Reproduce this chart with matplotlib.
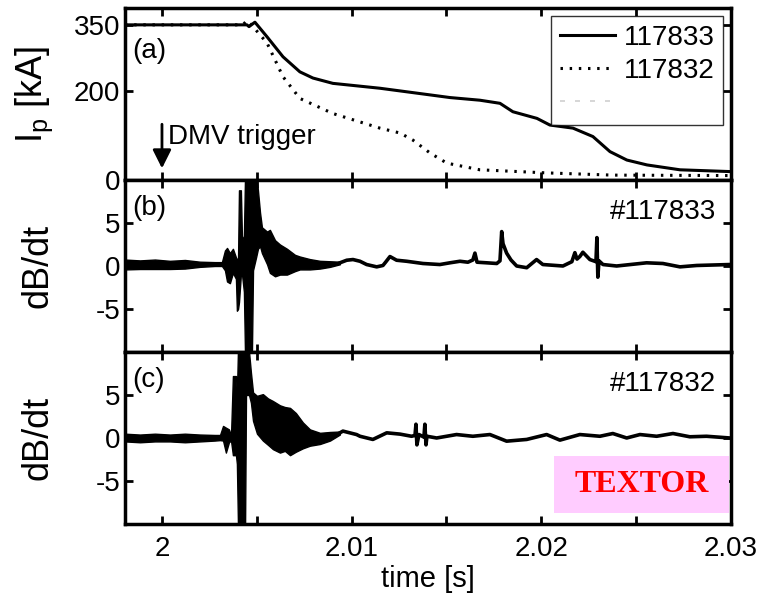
import numpy as np
import matplotlib.pyplot as plt
from matplotlib.patches import Rectangle
from matplotlib.lines import Line2D

plt.rcParams['font.family'] = ['Liberation Sans', 'DejaVu Sans']
plt.rcParams['mathtext.fontset'] = 'custom'
plt.rcParams['mathtext.rm'] = 'Liberation Sans'
plt.rcParams['mathtext.it'] = 'Liberation Sans'
plt.rcParams['axes.unicode_minus'] = False

# plasma current, kA
t_833 = [1.99805, 2.00448, 2.00459, 2.00490, 2.00554, 2.00638, 2.00727, 2.00796, 2.00901,
         2.01149, 2.01413, 2.01518, 2.01676, 2.01782, 2.01850, 2.01977, 2.02045, 2.02167,
         2.02272, 2.02362, 2.02451, 2.02557, 2.02731, 2.02994]
ip_833 = [350, 350, 346, 356, 323, 278, 244, 230, 218,
          207, 192, 186, 180, 173, 154, 139, 124, 117,
          98, 64, 45, 34, 23, 19]
t_832 = [1.99805, 2.00427, 2.00448, 2.00480, 2.00554, 2.00638, 2.00727, 2.00901, 2.01149,
         2.01255, 2.01323, 2.01413, 2.01502, 2.01676, 2.02030, 2.02377, 2.02994]
ip_832 = [350, 350, 360, 346, 309, 233, 184, 150, 117,
          106, 90, 61, 38, 23, 16, 11, 10]
trigger_time = 2.0

# dB/dt #117833: envelope of the noisy part, then the quieter trace
b_env_t = [1.99805, 1.99884, 1.99963, 2.00042, 2.00121, 2.00200, 2.00279, 2.00316, 2.00332,
           2.00343, 2.00358, 2.00374, 2.00390, 2.00395, 2.00401, 2.00406, 2.00416, 2.00422,
           2.00432, 2.00438, 2.00474, 2.00480, 2.00496, 2.00506, 2.00517, 2.00527, 2.00554,
           2.00569, 2.00596, 2.00622, 2.00659, 2.00701, 2.00727, 2.00780, 2.00833, 2.00886,
           2.00938]
b_env_hi = [0.75, 0.65, 0.75, 0.6, 0.7, 0.5, 0.45, 0.45, 1.8,
            2.1, 1.5, 2.0, 1.0, 0.8, 0.8, 8.8, 8.8, 3.0,
            3.5, 10.5, 10.5, 10.5, 10.5, 8.8, 6.2, 4.5, 4.0,
            4.2, 3.0, 2.5, 2.0, 1.3, 1.1, 0.8, 0.6, 0.55,
            0.5]
b_env_lo = [-0.4, -0.35, -0.35, -0.35, -0.3, -0.1, 0.0, 0.0, -0.5,
            -1.8, -2.0, -0.8, -1.5, -5.2, -5.0, -4.2, -1.0, -1.0,
            -3.0, -10.5, -10.5, -0.5, 1.0, 2.0, 2.3, 1.5, 0.2,
            -0.8, -1.2, -1.0, -1.0, -0.6, -0.4, -0.4, -0.3, -0.1,
            0.2]
b_t = [2.00938, 2.00974, 2.01007, 2.01044, 2.01079, 2.01132, 2.01165, 2.01181, 2.01202,
       2.01237, 2.01290, 2.01376, 2.01465, 2.01518, 2.01571, 2.01613, 2.01639, 2.01650,
       2.01661, 2.01712, 2.01765, 2.01782, 2.01791, 2.01798, 2.01817, 2.01840, 2.01870,
       2.01923, 2.01975, 2.02008, 2.02114, 2.02161, 2.02177, 2.02188, 2.02203, 2.02219,
       2.02256, 2.02288, 2.02293, 2.02298, 2.02304, 2.02325, 2.02397, 2.02555, 2.02641,
       2.02731, 2.02819, 2.02994]
b_v = [0.37, 0.67, 0.75, 0.55, 0.17, -0.1, 0.06, 0.5, 1.1,
       0.67, 0.55, 0.29, 0.17, 0.37, 0.55, 0.44, 0.7, 1.5,
       0.44, 0.37, 0.29, 0.6, 4.0, 2.6, 1.5, 0.7, 0.0,
       -0.2, 0.75, 0.17, 0.0, 0.5, 1.55, 0.8, 1.1, 1.6,
       0.75, 0.5, 3.3, -1.3, 0.6, 0.17, 0.0, 0.37, 0.29,
       -0.1, 0.06, 0.17]

# dB/dt #117832
c_env_t = [1.99805, 1.99884, 1.99963, 2.00042, 2.00121, 2.00200, 2.00279, 2.00306, 2.00322,
           2.00337, 2.00353, 2.00364, 2.00374, 2.00390, 2.00395, 2.00401, 2.00438, 2.00443,
           2.00459, 2.00469, 2.00480, 2.00501, 2.00532, 2.00559, 2.00585, 2.00622, 2.00648,
           2.00675, 2.00706, 2.00743, 2.00780, 2.00833, 2.00886, 2.00938]
c_env_hi = [0.5, 0.4, 0.5, 0.4, 0.5, 0.4, 0.35, 0.35, 1.4,
            1.2, 1.0, 0.3, 7.2, 7.2, 5.0, 10.5, 10.5, 10.5,
            10.0, 7.6, 5.3, 4.9, 5.1, 4.6, 4.3, 3.8, 3.6,
            3.5, 2.9, 1.8, 1.0, 0.6, 0.7, 0.75]
c_env_lo = [-0.4, -0.5, -0.4, -0.4, -0.5, -0.4, -0.3, -0.25, -0.3,
            -1.7, -0.5, -0.3, -2.0, -2.0, -3.0, -10.5, -10.5, 5.0,
            5.0, 4.1, 2.0, 0.5, -0.3, -0.8, -1.3, -1.7, -1.5,
            -2.0, -1.6, -1.2, -0.9, -0.7, -0.3, 0.4]
c_t = [2.00938, 2.00954, 2.01026, 2.01044, 2.01112, 2.01185, 2.01255, 2.01316, 2.01334,
       2.01339, 2.01344, 2.01355, 2.01381, 2.01386, 2.01392, 2.01397, 2.01448, 2.01553,
       2.01639, 2.01729, 2.01817, 2.01923, 2.02028, 2.02098, 2.02203, 2.02309, 2.02377,
       2.02450, 2.02520, 2.02608, 2.02694, 2.02783, 2.02871, 2.02994]
c_v = [0.6, 0.8, 0.4, 0.2, -0.17, 0.6, 0.45, 0.2, 0.3,
       1.6, -0.8, 0.4, 0.1, 1.6, -0.8, 0.2, 0.0, 0.4,
       0.2, 0.4, -0.37, -0.17, 0.4, -0.25, 0.4, 0.2, 0.52,
       0.0, 0.4, 0.2, 0.52, 0.14, 0.2, 0.0]

fig, (ax1, ax2, ax3) = plt.subplots(3, 1, sharex=True, figsize=(7.64, 6.02), dpi=100)
fig.subplots_adjust(left=0.1636, right=0.9568, top=0.9867, bottom=0.1296, hspace=0)

# (a) plasma current
ax1.plot(t_833, ip_833, color='k', lw=2.2, label='117833')
ax1.plot(t_832, ip_832, color='k', lw=2.2, linestyle=(0, (0.8, 2.2)), label='117832')
ax1.set_ylim(0, 388)
ax1.set_yticks([0, 200, 350])
ax1.set_ylabel('$\\mathregular{I_p}$ [kA]', fontsize=26)
ax1.text(0.012, 0.75, '(a)', transform=ax1.transAxes, fontsize=20, va='center')
ax1.annotate('', xy=(trigger_time, 20), xytext=(trigger_time, 132),
             arrowprops=dict(arrowstyle='-|>', color='k', lw=2, mutation_scale=28))
ax1.text(trigger_time + 0.0003, 97, 'DMV trigger', fontsize=20, va='center', ha='left')
handles = [Line2D([], [], color='k', lw=2.2),
           Line2D([], [], color='k', lw=2.2, linestyle=(0, (0.8, 2.2))),
           Line2D([], [], color='#d0d0d0', lw=1.2, linestyle=(0, (3, 6)))]
leg = ax1.legend(handles, ['117833', '117832', ''], loc='upper right', fontsize=20,
                 frameon=True, fancybox=False, handlelength=2.0, handletextpad=0.3,
                 borderaxespad=0.3, labelspacing=0.25, borderpad=0.3)
leg.get_frame().set_edgecolor('k')
leg.get_frame().set_linewidth(1.0)

# (b), (c) magnetic pickup signals
for ax, et, hi, lo, tt, vv, shot, tag in [
        (ax2, b_env_t, b_env_hi, b_env_lo, b_t, b_v, '#117833', '(b)'),
        (ax3, c_env_t, c_env_hi, c_env_lo, c_t, c_v, '#117832', '(c)')]:
    ax.fill_between(et, lo, hi, color='k', lw=1.0)
    ax.plot(tt, vv, color='k', lw=2.6)
    ax.set_ylim(-10, 10)
    ax.set_yticks([-5, 0, 5])
    ax.set_ylabel('dB/dt', fontsize=26)
    ax.text(0.012, 0.84, tag, transform=ax.transAxes, fontsize=20, va='center')
    ax.text(0.976, 0.815, shot, transform=ax.transAxes, fontsize=20, va='center', ha='right')

ax3.add_patch(Rectangle((0.708, 0.064), 0.289, 0.334, transform=ax3.transAxes,
                        facecolor='#ffccff', edgecolor='none', zorder=3))
ax3.text(0.852, 0.231, 'TEXTOR', transform=ax3.transAxes, fontsize=23, color='red',
         fontweight='bold', family='Liberation Serif', ha='center', va='center', zorder=4)

ax3.set_xlim(1.99805, 2.03)
ax3.set_xticks([2.0, 2.01, 2.02, 2.03])
ax3.set_xticklabels(['2', '2.01', '2.02', '2.03'])
ax3.set_xticks([2.005, 2.015, 2.025], minor=True)
ax3.set_xlabel('time [s]', fontsize=21, labelpad=2)

for ax in (ax1, ax2, ax3):
    ax.tick_params(which='both', direction='in', top=True, right=True, length=6, width=2,
                   labelsize=20)
    ax.tick_params(axis='x', pad=9)
    for s in ax.spines.values():
        s.set_linewidth(2.5)
    ax.yaxis.set_label_coords(-0.115, 0.5)

plt.savefig('out.png', dpi=100)
